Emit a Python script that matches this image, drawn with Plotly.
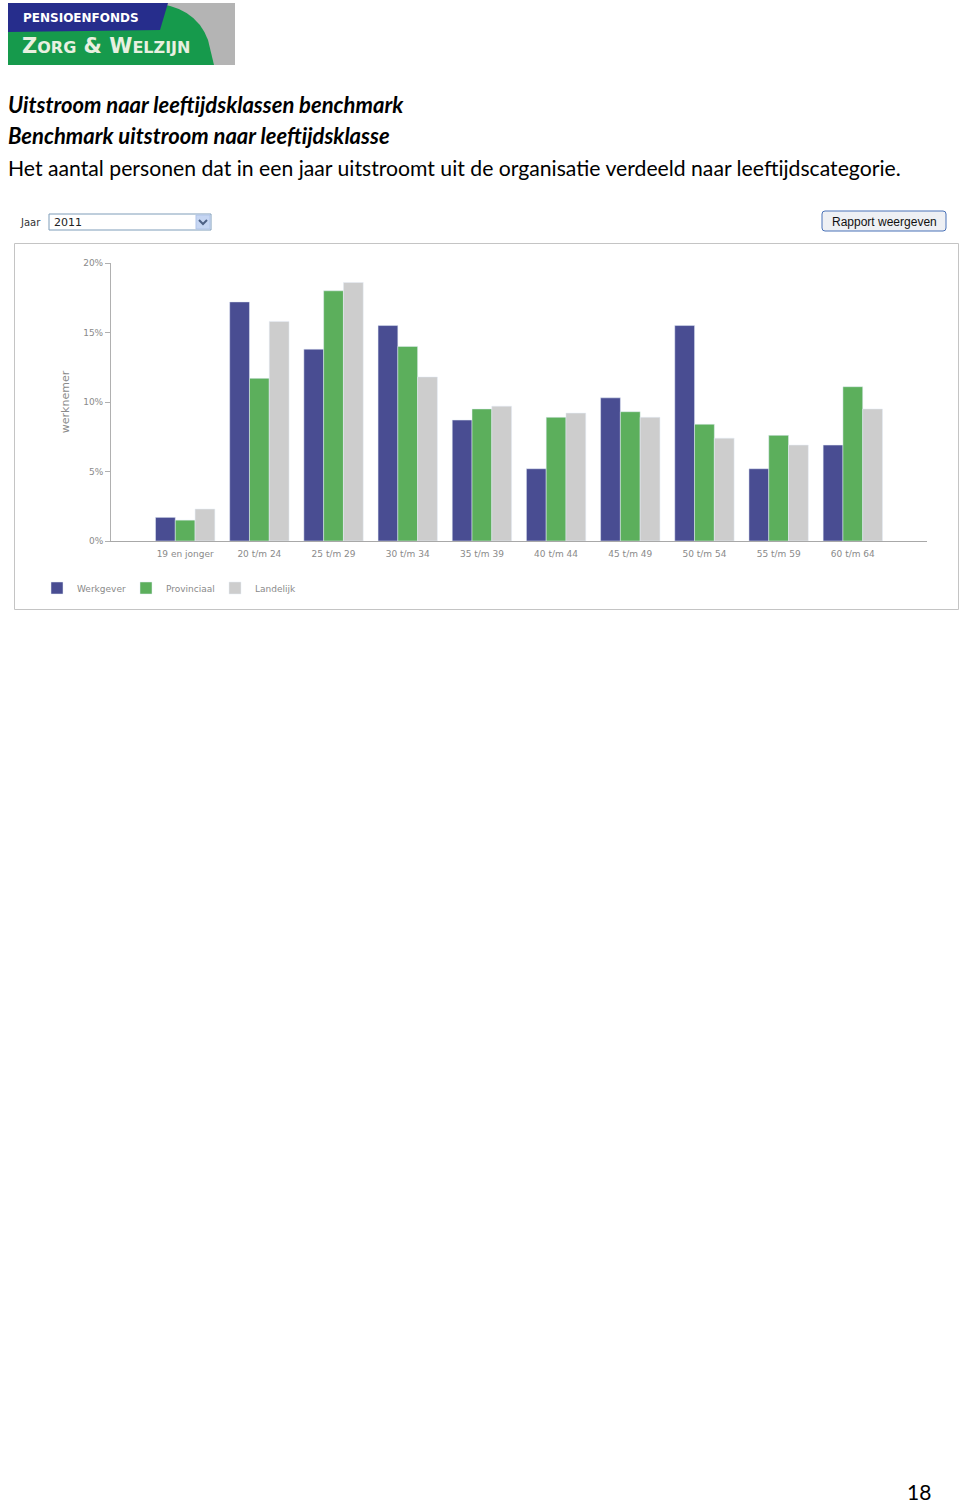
import plotly.graph_objects as go

categories = ["19 en jonger", "20 t/m 24", "25 t/m 29", "30 t/m 34", "35 t/m 39",
              "40 t/m 44", "45 t/m 49", "50 t/m 54", "55 t/m 59", "60 t/m 64"]
werkgever = [1.7, 17.2, 13.8, 15.5, 8.7, 5.2, 10.3, 15.5, 5.2, 6.9]
provinciaal = [1.5, 11.7, 18.0, 14.0, 9.5, 8.9, 9.3, 8.4, 7.6, 11.1]
landelijk = [2.3, 15.8, 18.6, 11.8, 9.7, 9.2, 8.9, 7.4, 6.9, 9.5]
y_ticks = [0, 5, 10, 15, 20]
y_tick_labels = ["0%", "5%", "10%", "15%", "20%"]

W, H = 960, 1503
def px(x):
    return x / W
def py(y):
    return 1 - y / H

fig = go.Figure()
fig.add_trace(go.Bar(name="Werkgever", x=categories, y=werkgever, marker_color="#494d92"))
fig.add_trace(go.Bar(name="Provinciaal", x=categories, y=provinciaal, marker_color="#5caf5c"))
fig.add_trace(go.Bar(name="Landelijk", x=categories, y=landelijk, marker_color="#cdcdcd"))

shapes = []
annotations = []

# Logo
shapes.append(dict(type="rect", xref="paper", yref="paper", x0=px(8), x1=px(235), y0=py(65), y1=py(3),
                   fillcolor="#b4b4b4", line=dict(width=0), layer="below"))
shapes.append(dict(type="path", xref="paper", yref="paper",
                   path=f"M {px(8)},{py(65)} L {px(8)},{py(3)} L {px(150)},{py(3)} "
                        f"Q {px(195)},{py(5)} {px(208)},{py(40)} L {px(214)},{py(65)} Z",
                   fillcolor="#169a4c", line=dict(width=0), layer="below"))
shapes.append(dict(type="path", xref="paper", yref="paper",
                   path=f"M {px(8)},{py(3)} L {px(168)},{py(3)} L {px(160)},{py(30)} "
                        f"L {px(8)},{py(32)} Z",
                   fillcolor="#262d8c", line=dict(width=0), layer="below"))
annotations.append(dict(text="<b>PENSIOENFONDS</b>", x=px(21), y=py(18), xref="paper", yref="paper",
                        xanchor="left", yanchor="middle", showarrow=False,
                        font=dict(family="DejaVu Sans", size=12, color="white")))
annotations.append(dict(text="<b>Z<span style='font-size:16px'>ORG</span> &amp; W<span style='font-size:16px'>ELZIJN</span></b>",
                        x=px(20), y=py(46), xref="paper", yref="paper",
                        xanchor="left", yanchor="middle", showarrow=False,
                        font=dict(family="DejaVu Sans", size=21, color="#e8f0e0")))

# Titles
title_font = "Lato"
annotations.append(dict(text="<b><i>Uitstroom naar leeftijdsklassen benchmark</i></b>", x=px(6), y=py(105),
                        xref="paper", yref="paper", xanchor="left", yanchor="middle", showarrow=False,
                        font=dict(family=title_font, size=22, color="black")))
annotations.append(dict(text="<b><i>Benchmark uitstroom naar leeftijdsklasse</i></b>", x=px(6), y=py(136),
                        xref="paper", yref="paper", xanchor="left", yanchor="middle", showarrow=False,
                        font=dict(family=title_font, size=22, color="black")))
annotations.append(dict(text="Het aantal personen dat in een jaar uitstroomt uit de organisatie verdeeld naar leeftijdscategorie.",
                        x=px(6), y=py(168), xref="paper", yref="paper", xanchor="left", yanchor="middle",
                        showarrow=False, font=dict(family=title_font, size=21.2, color="black")))

# Dropdown
annotations.append(dict(text="Jaar", x=px(18), y=py(222), xref="paper", yref="paper", xanchor="left",
                        yanchor="middle", showarrow=False, font=dict(family="DejaVu Sans", size=10, color="#333")))
shapes.append(dict(type="rect", xref="paper", yref="paper", x0=px(49), x1=px(211), y0=py(230), y1=py(214),
                   fillcolor="white", line=dict(color="#7f9db9", width=1)))
shapes.append(dict(type="rect", xref="paper", yref="paper", x0=px(196), x1=px(210), y0=py(229), y1=py(215),
                   fillcolor="#c6d6f3", line=dict(color="#b0c4e8", width=1)))
shapes.append(dict(type="path", xref="paper", yref="paper",
                   path=f"M {px(199)},{py(220)} L {px(203)},{py(224)} L {px(207)},{py(220)}",
                   line=dict(color="#4d6185", width=2)))
annotations.append(dict(text="2011", x=px(52), y=py(222), xref="paper", yref="paper", xanchor="left",
                        yanchor="middle", showarrow=False, font=dict(family="DejaVu Sans", size=11, color="#222")))

# Button
shapes.append(dict(type="path", xref="paper", yref="paper",
                   path=f"M {px(825)},{py(211)} L {px(943)},{py(211)} Q {px(946)},{py(211)} {px(946)},{py(214)} "
                        f"L {px(946)},{py(228)} Q {px(946)},{py(231)} {px(943)},{py(231)} "
                        f"L {px(825)},{py(231)} Q {px(822)},{py(231)} {px(822)},{py(228)} "
                        f"L {px(822)},{py(214)} Q {px(822)},{py(211)} {px(825)},{py(211)} Z",
                   fillcolor="#eef0f4", line=dict(color="#4a72b8", width=1)))
annotations.append(dict(text="Rapport weergeven", x=px(884), y=py(221.5), xref="paper", yref="paper",
                        xanchor="center", yanchor="middle", showarrow=False,
                        font=dict(family="Liberation Sans", size=12, color="#111")))

# Chart frame
shapes.append(dict(type="rect", xref="paper", yref="paper", x0=px(14.5), x1=px(958.5), y0=py(609.5), y1=py(243.5),
                   fillcolor="rgba(0,0,0,0)", line=dict(color="#c4c4c4", width=1), layer="below"))

# Page number
annotations.append(dict(text="18", x=px(919), y=py(1491), xref="paper", yref="paper", xanchor="center",
                        yanchor="middle", showarrow=False, font=dict(family=title_font, size=21, color="black")))

tick_font = dict(family="DejaVu Sans", size=9, color="#8a8a8a")

fig.update_layout(
    width=W, height=H,
    margin=dict(l=0, r=0, t=0, b=0, pad=0, autoexpand=False),
    paper_bgcolor="white", plot_bgcolor="white",
    barmode="group", bargap=0.2, bargroupgap=0,
    showlegend=True,
    legend=dict(orientation="h", x=px(37), y=py(588), xanchor="left", yanchor="middle",
                font=tick_font, itemwidth=30, bgcolor="rgba(0,0,0,0)",
                entrywidth=44, entrywidthmode="pixels"),
    xaxis=dict(domain=[px(111), px(927)], range=[-1, 10], type="category", automargin=False,
               showline=True, linecolor="#a8a8a8", linewidth=1, ticks="outside", ticklen=4,
               tickcolor="rgba(0,0,0,0)", tickfont=tick_font,
               showgrid=False, zeroline=False, fixedrange=True),
    yaxis=dict(domain=[py(541), py(263)], range=[0, 20], tickmode="array", tickvals=y_ticks,
               ticktext=y_tick_labels, automargin=False,
               showline=True, linecolor="#b0b0b0", linewidth=1, ticks="outside", ticklen=5,
               tickcolor="#b0b0b0", tickfont=tick_font, showgrid=False, zeroline=False,
               title=dict(text="werknemer", font=dict(family="DejaVu Sans", size=11, color="#8a8a8a"),
                          standoff=11)),
    shapes=shapes, annotations=annotations,
)

fig.write_html("out.html")
